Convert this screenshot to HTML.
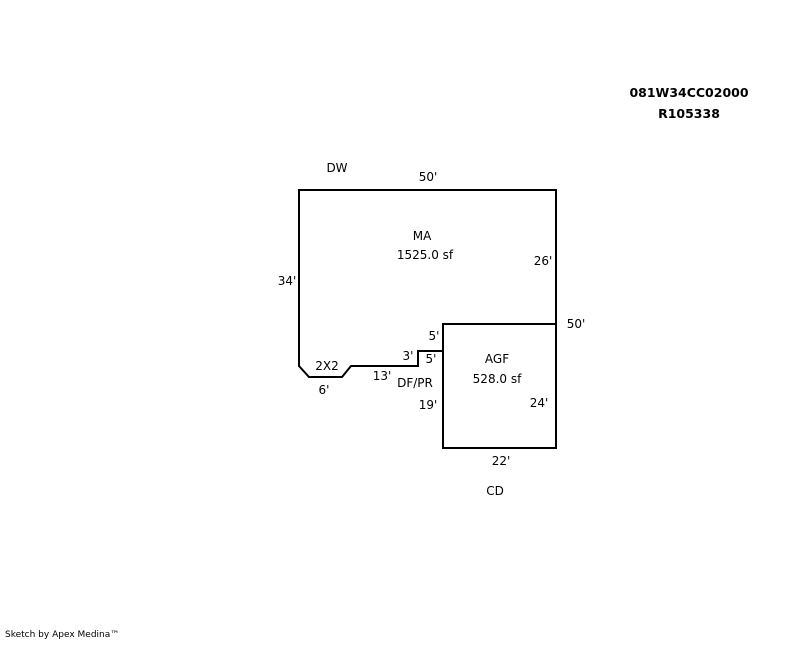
<!DOCTYPE html>
<html><head><style>
body{margin:0;background:#fff;}
svg text{font-family:"DejaVu Sans","Liberation Sans",sans-serif;font-size:12px;fill:#000;}
</style></head><body>
<svg width="800" height="640" xmlns="http://www.w3.org/2000/svg">
<g fill="none" stroke="#000" stroke-width="2">
<polyline points="443,324 556,324 556,190 299,190 299,366 309,377 342,377 351,366 418,366 418,351 443,351"/>
<rect x="443" y="324" width="113" height="124"/>
</g>
<text x="689" y="97" text-anchor="middle" style="font-weight:bold;font-size:12.5px">081W34CC02000</text>
<text x="689" y="118" text-anchor="middle" style="font-weight:bold;font-size:12.5px">R105338</text>
<text x="337" y="172" text-anchor="middle">DW</text>
<text x="428" y="181" text-anchor="middle">50'</text>
<text x="422" y="240" text-anchor="middle">MA</text>
<text x="425" y="259" text-anchor="middle">1525.0 sf</text>
<text x="543" y="265" text-anchor="middle">26'</text>
<text x="287" y="285" text-anchor="middle">34'</text>
<text x="576" y="328" text-anchor="middle">50'</text>
<text x="434" y="340" text-anchor="middle">5'</text>
<text x="408" y="360" text-anchor="middle">3'</text>
<text x="431" y="363" text-anchor="middle">5'</text>
<text x="327" y="370" text-anchor="middle">2X2</text>
<text x="497" y="363" text-anchor="middle">AGF</text>
<text x="497" y="383" text-anchor="middle">528.0 sf</text>
<text x="382" y="380" text-anchor="middle">13'</text>
<text x="415" y="387" text-anchor="middle">DF/PR</text>
<text x="324" y="394" text-anchor="middle">6'</text>
<text x="539" y="407" text-anchor="middle">24'</text>
<text x="428" y="409" text-anchor="middle">19'</text>
<text x="501" y="465" text-anchor="middle">22'</text>
<text x="495" y="495" text-anchor="middle">CD</text>
<text x="5" y="637" style="font-size:9px">Sketch by Apex Medina™</text>
</svg>
</body></html>
